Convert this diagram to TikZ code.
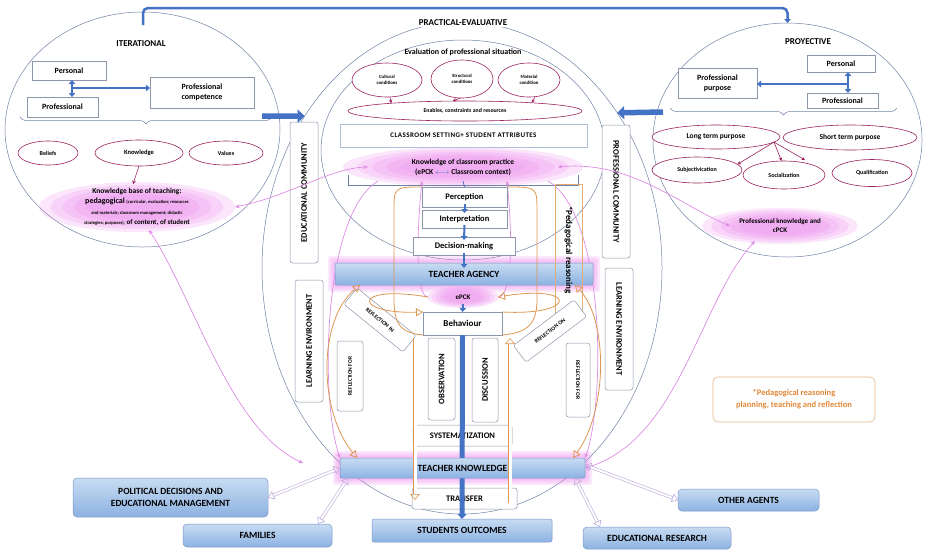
\documentclass[tikz,border=0pt]{standalone}
\usepackage{fontspec}
\setmainfont{Carlito}
\usetikzlibrary{shapes.geometric,arrows.meta,decorations.pathreplacing,backgrounds}

\definecolor{arrblue}{RGB}{68,114,196}
\definecolor{circgray}{RGB}{110,130,165}
\definecolor{boxgray}{RGB}{140,150,170}
\definecolor{ovalred}{RGB}{155,35,95}
\definecolor{glowpink}{RGB}{236,140,236}
\definecolor{pinkline}{RGB}{222,140,228}
\definecolor{orline}{RGB}{220,150,80}
\definecolor{lavline}{RGB}{190,170,220}
\definecolor{bartop}{RGB}{200,220,242}
\definecolor{barbot}{RGB}{140,178,226}
\definecolor{barline}{RGB}{120,150,200}
\definecolor{notetext}{RGB}{225,135,55}

\newcommand{\smtxt}{\fontsize{4.6}{10}\selectfont}
\newcommand{\pinkglow}[3]{%
  \foreach \k in {0,...,4}{\fill[glowpink,opacity=0.22] (#1) ellipse [x radius={#2*(1-\k*0.12)}, y radius={#3*(1-\k*0.12)}];}}
\newcommand{\barglow}[1]{%
  \foreach \k in {1,...,4}{\fill[glowpink,opacity=0.18,rounded corners=3pt] ([shift={(-\k*1.8pt,-\k*1.8pt)}]#1.south west) rectangle ([shift={(\k*1.8pt,\k*1.8pt)}]#1.north east);}}

\begin{document}
\begin{tikzpicture}[x=1pt, y=-1pt,
  every node/.style={inner sep=1pt, outer sep=0pt, align=center},
  fs/.style 2 args={font=\bfseries\fontsize{#1}{#2}\selectfont},
  sz/.style 2 args={minimum width=#1pt, minimum height=#2pt},
  box/.style={draw=boxgray, fill=white, line width=0.5pt},
  rbox/.style={box, rounded corners=2.5pt},
  oval/.style={ellipse, draw=ovalred, fill=white, line width=0.6pt},
  circ/.style={ellipse, draw=circgray, line width=0.5pt},
  bar/.style={draw=barline, line width=0.5pt, top color=bartop, bottom color=barbot, rounded corners=2pt},
  bluearr/.style={draw=arrblue, line width=2pt, >={Triangle[length=4pt,width=6.5pt]}},
  bigarr/.style={draw=arrblue, line width=5.5pt, -{Triangle[length=7pt,width=13pt]}},
  pinkarr/.style={draw=pinkline, line width=0.7pt, >={Stealth[length=4.5pt,width=4pt]}},
  ovarr/.style={draw=ovalred, line width=0.6pt, -{Stealth[length=3.5pt,width=3.5pt]}},
  orpath/.style={draw=orline, line width=0.8pt},
  orhollow/.style={orpath, >={Triangle[open,length=7pt,width=8pt]}},
  orblock/.style={draw=orline, line width=0.6pt, double=white, double distance=3pt, -{Triangle[open,length=6pt,width=10pt]}},
  lavarr/.style={draw=lavline, line width=0.6pt, double=white, double distance=2pt, {Triangle[open,length=6pt,width=9pt]}-{Triangle[open,length=6pt,width=9pt]}},
  thinline/.style={draw=circgray, line width=0.5pt}]
\useasboundingbox (0,0) rectangle (925,550);

\begin{scope}[on background layer]
\node[circ, sz={275}{235}] (iterC) at (142.5,129.5) {};
\node[circ, sz={400}{492}] (pracC) at (462,268) {};
\node[circ, sz={284}{220}] (evalC) at (463,150) {};
\node[circ, sz={269}{234}] (proyC) at (787.5,140) {};
\end{scope}

% iterational
\node[fs={9}{10}] (iterT) at (141,44) {ITERATIONAL};
\node[box, fs={8}{9}, sz={74}{19}] (per1) at (69,70.5) {Personal};
\node[box, fs={8}{9}, sz={71}{20}] (pro1) at (62.5,107) {Professional};
\node[box, fs={8}{10}, sz={104}{31}] (comp1) at (202,92.5) {Professional\\competence};
\node[oval, fs={6}{7}, sz={60}{24}] (bel) at (48,153) {Beliefs};
\node[oval, fs={6.5}{7}, sz={88}{26}] (kno) at (139,153) {Knowledge};
\node[oval, fs={6}{7}, sz={74}{24}] (val) at (226,153) {Values};
\node[fs={7.5}{10.5}, sz={196}{46}] (kbase) at (137,207) {Knowledge base of teaching:\\
  {\fontsize{8}{10.5}\selectfont pedagogical} {\smtxt(curricular, evaluation; resources}\\
  {\smtxt and materials; classroom management; didactic}\\
  {\smtxt strategies; purposes),} {\fontsize{7}{10.5}\selectfont of content, of student}};

% practical-evaluative
\node[fs={9}{10}, fill=white] (pracT) at (463,23) {PRACTICAL-EVALUATIVE};
\node[fs={8}{9}] (evalT) at (463,52) {Evaluation of professional situation};
\node[oval, fs={4.8}{6}, sz={70}{34}] (cul) at (387,80) {Cultural\\conditions};
\node[oval, fs={4.8}{6}, sz={62}{38}] (str) at (462,79) {Structural\\conditions};
\node[oval, fs={4.8}{6}, sz={62}{34}] (mat) at (529,80) {Material\\condition};
\node[oval, fs={5.8}{7}, sz={234}{20}] (ena) at (465,111) {Enables, constraints and resources};
\node[box, draw=barline!60, fs={7}{8}, sz={247}{23}] (cls) at (463.5,135.5) {\addfontfeature{LetterSpace=6}CLASSROOM SETTING+ STUDENT ATTRIBUTES};
\node[fs={7.5}{10}, sz={190}{28}] (kcp) at (463,167) {Knowledge of classroom practice\\(ePCK {\color{arrblue}$\longleftrightarrow$} Classroom context)};
\node[box, fs={8.5}{9}, sz={85}{20}] (per) at (464.5,197) {Perception};
\node[box, fs={8.5}{9}, sz={85}{18}] (int) at (464.5,219) {Interpretation};
\node[box, fs={8.5}{9}, sz={102}{18}] (dec) at (464,246) {Decision-making};
\node[bar, fs={9.5}{10}, sz={258}{22}] (ta) at (464,274) {TEACHER AGENCY};
\node[fs={7}{8}, sz={70}{14}] (epck) at (463,297) {ePCK};
\node[box, fs={9}{10}, sz={79}{23}] (beh) at (462.5,323.5) {Behaviour};
\node[rbox, fs={8.5}{9}, sz={82}{27}, rotate=90] (obs) at (441.5,379) {OBSERVATION};
\node[rbox, fs={8.5}{9}, sz={84}{26}, rotate=90] (dis) at (485,380) {DISCUSSION};
\node[rbox, fs={8.5}{9}, sz={99}{21}] (sys) at (462.5,435.5) {SYSTEMATIZATION};
\node[rbox, fs={8.5}{9}, sz={105}{21}] (tr) at (464.5,498.5) {TRANSFER};
\node[bar, fs={9.5}{10}, sz={180}{23}] (so) at (462,530.5) {STUDENTS OUTCOMES};
\draw[draw=arrblue, line width=5pt, -{Triangle[length=5pt,width=9pt]}] (beh.south) -- (so.north);
\node[bar, fs={9.5}{10}, sz={245}{20}] (tk) at (462.5,468) {TEACHER KNOWLEDGE};

% side boxes
\node[rbox, fs={8.5}{9}, sz={141}{28}, rotate=90] (edc) at (304,192.5) {EDUCATIONAL COMMUNITY};
\node[rbox, fs={8.5}{9}, sz={122}{28}, rotate=90] (lel) at (309,341) {LEARNING ENVIRONMENT};
\node[rbox, fs={5.5}{6}, sz={70}{26}, rotate=90] (rfl) at (350,376) {REFLECTION FOR};
\node[rbox, fs={5.6}{6}, sz={76}{21}, rotate=-39] (rin) at (380,320) {REFLECTION IN};
\node[rbox, fs={8.5}{9}, sz={133}{28}, rotate=-90] (prc) at (616,191.5) {PROFESSIONAL COMMUNITY};
\node[box, fill=none, draw=orline!80, fs={9}{10}, sz={132}{27}, rotate=-90] (ped) at (568.5,250) {*Pedagogical reasoning};
\node[rbox, fs={8.5}{9}, sz={122}{28}, rotate=-90] (ler) at (619,329) {LEARNING ENVIRONMENT};
\node[rbox, fs={5.6}{6}, sz={76}{21}, rotate=37] (ron) at (550,331) {REFLECTION ON};
\node[rbox, fs={5.5}{6}, sz={74}{24}, rotate=-90] (rfr) at (578,380) {REFLECTION FOR};

% proyective
\node[fs={9}{10}] (proyT) at (808,42) {PROYECTIVE};
\node[box, fs={8}{9}, sz={68}{17}] (per2) at (841,63.5) {Personal};
\node[box, fs={8}{9}, sz={71}{15}] (pro2) at (842.5,100.5) {Professional};
\node[box, fs={8}{10}, sz={79}{30}] (pp) at (717.5,83) {Professional\\purpose};
\node[oval, fs={7.5}{8}, sz={128}{24}] (ltp) at (716,137) {Long term purpose};
\node[oval, fs={7.5}{8}, sz={134}{25}] (stp) at (850,137.5) {Short term purpose};
\node[oval, fs={6}{7}, sz={90}{26}] (sub) at (697,170) {Subjectivication};
\node[oval, fs={6}{7}, sz={82}{28}] (soc) at (784,175) {Socialization};
\node[oval, fs={6}{7}, sz={80}{27}] (qua) at (872,173) {Qualification};
\node[fs={7}{9}, sz={100}{30}] (pkc) at (780,226) {Professional knowledge and\\cPCK};

% bottom
\node[bar, rounded corners=4pt, fs={9.5}{12}, sz={195}{39}] (pol) at (170.5,497.5) {POLITICAL DECISIONS AND\\EDUCATIONAL MANAGEMENT};
\node[bar, rounded corners=4pt, fs={9.5}{10}, sz={149}{23}] (fam) at (257.5,535.5) {FAMILIES};
\node[bar, rounded corners=4pt, fs={9.5}{10}, sz={141}{22}] (oth) at (748.5,500) {OTHER AGENTS};
\node[bar, rounded corners=4pt, fs={9.5}{10}, sz={148}{22}] (edu) at (657,538) {EDUCATIONAL RESEARCH};
\node[draw=orline!70, line width=0.6pt, rounded corners=5pt, text=notetext, fs={8.5}{12}, sz={162}{45}] (pnote) at (794,399.5) {*Pedagogical reasoning\\planning, teaching and reflection};

% blue arrows
\coordinate (j1) at (72,88);
\draw[bluearr,<->] (j1 |- per1.south) -- (j1 |- pro1.north);
\draw[bluearr,->] (j1) -- (j1 -| comp1.west);
\coordinate (j2) at (848,84);
\draw[bluearr,<->] (j2 |- per2.south) -- (j2 |- pro2.north);
\draw[bluearr,->] (j2) -- (j2 -| pp.east);
\coordinate (t1) at (143,25);
\draw[bluearr, line width=2.5pt, ->, rounded corners=5pt] (t1) |- ([yshift=15pt]proyC.north) -- (proyC.north);
\coordinate (ba1) at (262,116);
\draw[bigarr] (ba1) -- (pracC.136);
\coordinate (ba2) at (663,112);
\draw[bigarr] (ba2) -- (pracC.45);
\draw[draw=arrblue, line width=0.8pt] (kcp.south) -- (per.north);
\draw[bluearr,->] ([yshift=3pt]per.south) -- ([yshift=-3pt]int.north);
\draw[bluearr,->] ([yshift=3pt]int.south) -- ([yshift=-3pt]dec.north);
\draw[bluearr,->] ([yshift=2pt]dec.south) -- ([yshift=-5pt]ta.north);
\draw[bluearr,->] (epck.south) -- (beh.north);

% oval arrows
\draw[ovarr] (kno.south) -- ([xshift=-4pt]kbase.north);
\draw[ovarr] (cul.-80) -- (ena.174);
\draw[ovarr] (str.-95) -- (ena.141);
\draw[ovarr] (mat.-70) -- (ena.7);
\coordinate (q1) at (805,160);
\draw[ovarr] (ltp.-5) -- (sub.8);
\draw[ovarr] (ltp.-5) -- (soc.100);
\draw[ovarr] (ltp.-5) -- (q1);

% knowledge links
\coordinate (pk) at (303,463);
\draw[pinkarr,<->] (kbase.east) .. controls (290,196) and (330,168) .. (kcp.west);
\draw[pinkarr,<->] ([xshift=12pt]kbase.south) .. controls (195,300) and (230,430) .. (pk);
\draw[pinkarr,<->] (kcp.east) .. controls (630,160) and (680,205) .. (pkc.west);
\draw[pinkarr,<->] ([xshift=-25pt]pkc.south) .. controls (700,300) and (680,440) .. (tk.east);

% reasoning loops
\draw[orpath] (per.north west) .. controls (394,187) .. (394,212) -- (394,300) .. controls (394,328) and (404,333) .. (beh.south west);
\draw[orpath] (per.north east) .. controls (537,187) .. (537,212) -- (537,300) .. controls (537,326) and (525,333) .. (beh.south east);
\coordinate (ob1) at (415,338);
\coordinate (ob2) at (415,500);
\draw[orblock] (ob1) -- (ob2);
\coordinate (ob3) at (510,503);
\coordinate (ob4) at (510,338);
\draw[orblock] (ob3) -- (ob4);
\draw[orhollow,->] (epck.west) .. controls (352,284) and (352,314) .. (beh.north west);
\draw[orhollow,->] (beh.north east) .. controls (578,316) and (578,284) .. (epck.east);
\draw[orhollow,<->] ([xshift=25pt]ta.south west) .. controls (318,320) and (318,410) .. ([xshift=17pt]tk.north west);
\draw[orhollow,<->] ([xshift=-18pt]ta.south east) .. controls (608,320) and (608,410) .. ([xshift=-12pt]tk.north east);

% outside agents
\draw[lavarr] (tk.west) -- (pol.east);
\draw[lavarr] ([xshift=8pt]tk.south west) -- ([xshift=-14pt]fam.north east);
\draw[lavarr] ([yshift=3pt]tk.east) -- (oth.west);
\draw[lavarr] ([xshift=-10pt]tk.south east) -- ([xshift=17pt]edu.north west);

\begin{scope}[on background layer]
\pinkglow{kbase.center}{98}{25}
\pinkglow{kcp.center}{120}{20}
\pinkglow{epck.center}{36}{11}
\pinkglow{pkc.center}{78}{18}
\barglow{ta}
\barglow{tk}
\draw[thinline, decorate, decoration={brace,mirror,amplitude=7pt}] (20,117) -- (272,117);
\draw[thinline, decorate, decoration={brace,mirror,amplitude=7pt}] (670,108) -- (897,108);
\draw[thinline] (348,175) |- (578,185) -- (578,175);
\draw[pinkarr,->] ([xshift=10pt]kcp.south west) .. controls (322,215) and (320,400) .. (tk.north west);
\draw[pinkarr,->] ([xshift=-10pt]kcp.south east) .. controls (605,215) and (606,400) .. (tk.north east);
\draw[pinkarr,->] (epck.west) .. controls (416,297) and (416,240) .. (kcp.south -| per.west);
\draw[pinkarr,->] (epck.east) .. controls (512,297) and (513,240) .. (kcp.south -| per.east);
\end{scope}
\end{tikzpicture}
\end{document}
